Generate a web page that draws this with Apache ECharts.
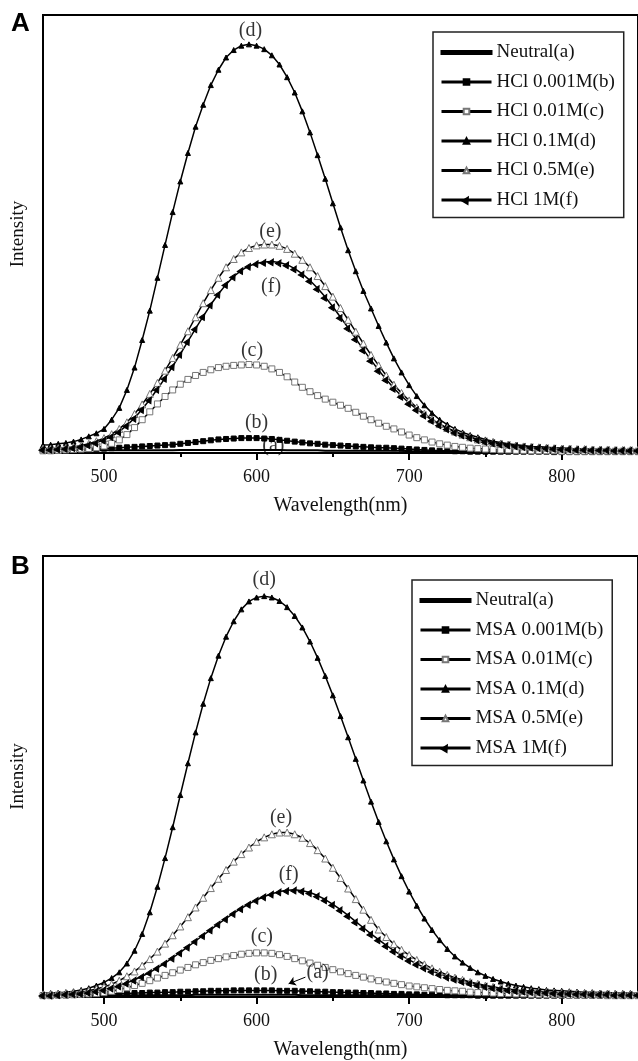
<!DOCTYPE html>
<html>
<head>
<meta charset="utf-8">
<script src="https://cdn.jsdelivr.net/npm/echarts@6/dist/echarts.min.js"></script>
<style>
  html, body { margin: 0; padding: 0; background: #fff; }
  #chart { width: 638px; height: 1061px; }
</style>
</head>
<body>
<div id="chart"></div>
<script>
// wavelength grid (nm)
const wl = [460,465,470,475,480,485,490,495,500,505,
  510,515,520,525,530,535,540,545,550,555,
  560,565,570,575,580,585,590,595,600,605,
  610,615,620,625,630,635,640,645,650,655,
  660,665,670,675,680,685,690,695,700,705,
  710,715,720,725,730,735,740,745,750,755,
  760,765,770,775,780,785,790,795,800,805,
  810,815,820,825,830,835,840,845,850];

const xTicks = [500, 600, 700, 800];
const xMinorTicks = [550, 650, 750];

const namesA = ['Neutral(a)', 'HCl 0.001M(b)', 'HCl 0.01M(c)', 'HCl 0.1M(d)', 'HCl 0.5M(e)', 'HCl 1M(f)'];
const namesB = ['Neutral(a)', 'MSA 0.001M(b)', 'MSA 0.01M(c)', 'MSA 0.1M(d)', 'MSA 0.5M(e)', 'MSA 1M(f)'];

// panel A intensities (arbitrary units, 0-100)
const aA = [0.6,0.6,0.6,0.6,0.6,0.6,0.6,0.6,0.6,0.6,
  0.6,0.6,0.6,0.6,0.6,0.6,0.6,0.6,0.7,0.7,
  0.7,0.7,0.7,0.7,0.7,0.7,0.7,0.7,0.7,0.7,
  0.7,0.7,0.6,0.6,0.6,0.6,0.6,0.5,0.5,0.5,
  0.5,0.5,0.5,0.5,0.5,0.5,0.5,0.5,0.4,0.4,
  0.4,0.4,0.4,0.4,0.4,0.4,0.4,0.4,0.4,0.4,
  0.4,0.4,0.4,0.4,0.4,0.4,0.4,0.4,0.4,0.4,
  0.4,0.4,0.4,0.4,0.4,0.4,0.4,0.4,0.4];
const bA = [0.5,0.5,0.5,0.6,0.6,0.7,0.8,0.9,1.0,1.1,
  1.2,1.3,1.4,1.5,1.6,1.7,1.8,1.9,2.1,2.3,
  2.5,2.7,2.9,3.1,3.2,3.3,3.4,3.4,3.4,3.3,
  3.2,3.0,2.8,2.6,2.4,2.2,2.1,1.9,1.8,1.7,
  1.6,1.5,1.4,1.3,1.2,1.2,1.1,1.0,0.9,0.8,
  0.7,0.6,0.5,0.5,0.4,0.4,0.3,0.3,0.3,0.3,
  0.3,0.3,0.3,0.3,0.3,0.3,0.3,0.2,0.2,0.2,
  0.2,0.2,0.2,0.2,0.2,0.2,0.2,0.2,0.2];
const cA = [0.5,0.5,0.6,0.7,0.8,0.9,1.0,1.2,1.6,2.2,
  3.0,4.2,5.8,7.6,9.4,11.2,12.9,14.4,15.7,16.8,
  17.7,18.4,19.0,19.5,19.8,20.0,20.1,20.2,20.1,19.8,
  19.2,18.4,17.4,16.2,15.0,14.0,13.1,12.3,11.6,10.9,
  10.2,9.3,8.4,7.6,6.8,6.1,5.5,4.8,4.1,3.5,
  3.0,2.5,2.1,1.8,1.5,1.3,1.1,1.0,0.9,0.8,
  0.7,0.7,0.6,0.6,0.5,0.5,0.5,0.5,0.4,0.4,
  0.4,0.4,0.4,0.4,0.4,0.4,0.4,0.4,0.4];
const dA = [1.8,1.9,2.1,2.3,2.6,3.1,3.8,4.5,5.5,7.6,
  10.3,14.4,19.5,25.8,32.5,40.0,47.5,55.0,62.0,68.5,
  74.5,79.5,84.0,87.5,90.3,92.0,93.0,93.3,93.0,92.2,
  90.8,88.7,85.8,82.3,78.0,73.2,68.0,62.6,57.0,51.5,
  46.3,41.5,37.0,33.0,29.0,25.2,21.6,18.4,15.5,13.0,
  10.9,9.1,7.6,6.5,5.5,4.7,4.1,3.6,3.1,2.7,
  2.4,2.1,1.9,1.7,1.5,1.4,1.3,1.2,1.1,1.0,
  0.9,0.9,0.8,0.8,0.7,0.7,0.7,0.6,0.6];
const eA = [1.0,1.0,1.1,1.2,1.4,1.7,2.1,2.7,3.4,4.3,
  5.5,7.0,8.9,11.1,13.5,16.0,18.8,21.7,24.7,27.8,
  31.0,34.2,37.2,40.0,42.4,44.3,45.8,46.8,47.4,47.6,
  47.6,47.3,46.6,45.5,44.1,42.4,40.4,38.1,35.7,33.1,
  30.4,27.7,25.0,22.4,20.0,17.7,15.6,13.7,12.0,10.4,
  9.0,7.7,6.6,5.7,4.9,4.2,3.6,3.1,2.7,2.4,
  2.1,1.9,1.7,1.5,1.4,1.3,1.2,1.1,1.0,1.0,
  0.9,0.9,0.8,0.8,0.8,0.7,0.7,0.7,0.7];
const fA = [0.9,0.9,1.0,1.1,1.3,1.5,1.9,2.4,3.0,3.8,
  4.9,6.3,8.0,10.0,12.2,14.6,17.1,19.8,22.6,25.5,
  28.4,31.2,33.9,36.3,38.5,40.3,41.7,42.7,43.3,43.6,
  43.7,43.5,43.0,42.1,40.9,39.4,37.6,35.6,33.4,31.0,
  28.6,26.1,23.6,21.2,18.9,16.8,14.8,13.0,11.4,10.0,
  8.7,7.5,6.5,5.6,4.8,4.2,3.6,3.1,2.7,2.4,
  2.1,1.9,1.7,1.5,1.4,1.3,1.2,1.1,1.0,1.0,
  0.9,0.9,0.8,0.8,0.8,0.7,0.7,0.7,0.7];

// panel B intensities
const aB = [0.4,0.4,0.4,0.4,0.4,0.4,0.4,0.4,0.4,0.4,
  0.4,0.4,0.4,0.4,0.4,0.4,0.4,0.4,0.4,0.4,
  0.5,0.5,0.5,0.5,0.5,0.5,0.5,0.5,0.5,0.5,
  0.5,0.5,0.5,0.5,0.4,0.4,0.4,0.4,0.4,0.4,
  0.4,0.4,0.4,0.4,0.4,0.4,0.4,0.4,0.4,0.4,
  0.3,0.3,0.3,0.3,0.3,0.3,0.3,0.3,0.3,0.3,
  0.3,0.3,0.3,0.3,0.3,0.3,0.3,0.3,0.3,0.3,
  0.3,0.3,0.3,0.3,0.3,0.3,0.3,0.3,0.3];
const bB = [0.4,0.4,0.4,0.5,0.5,0.5,0.6,0.6,0.7,0.7,
  0.8,0.8,0.9,0.9,1.0,1.0,1.1,1.1,1.2,1.2,
  1.3,1.3,1.4,1.4,1.4,1.5,1.5,1.5,1.5,1.5,
  1.5,1.4,1.4,1.4,1.3,1.3,1.2,1.2,1.1,1.1,
  1.0,1.0,0.9,0.9,0.8,0.8,0.7,0.7,0.6,0.6,
  0.5,0.5,0.5,0.4,0.4,0.4,0.4,0.3,0.3,0.3,
  0.3,0.3,0.3,0.3,0.3,0.3,0.3,0.3,0.3,0.3,
  0.3,0.3,0.3,0.3,0.3,0.3,0.3,0.3,0.3];
const cB = [0.3,0.3,0.4,0.4,0.5,0.6,0.7,0.8,1.0,1.3,
  1.7,2.1,2.6,3.1,3.7,4.3,4.9,5.5,6.1,6.7,
  7.3,7.8,8.3,8.7,9.1,9.4,9.7,9.9,10.0,10.0,
  9.9,9.6,9.2,8.7,8.2,7.7,7.2,6.7,6.2,5.7,
  5.3,4.9,4.5,4.1,3.7,3.4,3.1,2.8,2.5,2.3,
  2.1,1.9,1.7,1.5,1.4,1.3,1.1,1.0,1.0,0.9,
  0.8,0.8,0.7,0.7,0.6,0.6,0.5,0.5,0.5,0.4,
  0.4,0.4,0.4,0.4,0.3,0.3,0.3,0.3,0.3];
const dB = [0.9,0.9,1.0,1.1,1.3,1.6,2.0,2.6,3.3,4.3,
  5.6,7.6,10.5,14.3,19.2,25.0,31.5,38.5,45.8,53.0,
  60.0,66.5,72.3,77.4,81.7,85.2,87.9,89.7,90.6,90.9,
  90.6,89.8,88.4,86.4,83.8,80.6,76.9,72.8,68.4,63.7,
  58.9,54.0,49.1,44.3,39.7,35.3,31.2,27.4,23.9,20.7,
  17.8,15.2,12.9,10.9,9.2,7.8,6.6,5.6,4.8,4.1,
  3.5,3.0,2.6,2.3,2.0,1.8,1.6,1.5,1.4,1.3,
  1.2,1.1,1.1,1.0,1.0,0.9,0.9,0.9,0.8];
const eB = [0.6,0.6,0.7,0.8,0.9,1.1,1.4,1.8,2.3,2.9,
  3.7,4.7,5.8,7.1,8.6,10.3,12.1,14.0,16.0,18.1,
  20.3,22.5,24.7,26.8,28.8,30.7,32.4,33.9,35.2,36.2,
  36.9,37.3,37.3,36.9,36.1,34.9,33.3,31.4,29.3,27.0,
  24.6,22.2,19.8,17.5,15.3,13.6,12.0,10.7,9.5,8.4,
  7.4,6.5,5.7,5.0,4.4,3.9,3.4,3.0,2.6,2.3,
  2.0,1.8,1.6,1.4,1.3,1.2,1.1,1.0,0.9,0.9,
  0.8,0.8,0.7,0.7,0.7,0.6,0.6,0.6,0.6];
const fB = [0.5,0.5,0.6,0.7,0.8,0.9,1.1,1.4,1.7,2.1,
  2.6,3.2,3.9,4.7,5.6,6.6,7.7,8.9,10.1,11.4,
  12.7,14.0,15.3,16.6,17.8,19.0,20.1,21.1,22.0,22.8,
  23.4,23.9,24.2,24.3,24.1,23.7,23.0,22.1,21.0,19.8,
  18.5,17.1,15.7,14.3,13.0,11.7,10.5,9.4,8.4,7.5,
  6.7,5.9,5.2,4.6,4.1,3.6,3.2,2.8,2.5,2.2,
  1.9,1.7,1.5,1.4,1.3,1.2,1.1,1.0,0.9,0.9,
  0.8,0.8,0.7,0.7,0.7,0.6,0.6,0.6,0.6];

// curve annotations [wavelength, intensity, text]
const labelsA = [[596, 96.3, '(d)'], [609, 50.5, '(e)'], [609.5, 37.9, '(f)'],
  [597, 23.3, '(c)'], [600, 6.8, '(b)'], [611, 1.7, '(a)']];
const labelsB = [[605, 94.6, '(d)'], [616, 40.6, '(e)'], [621, 27.7, '(f)'],
  [603.5, 13.6, '(c)'], [606, 5.0, '(b)'], [640, 5.4, '(a)']];

const serif = "'Liberation Serif', 'Times New Roman', serif";
const sans = "'Liberation Sans', Arial, sans-serif";

// marker style per curve letter
const marks = {
  a: { symbol: 'none' },
  b: { symbol: 'rect', symbolSize: 5, fill: '#000', border: '#000' },
  c: { symbol: 'rect', symbolSize: 6, fill: '#fff', border: '#777' },
  d: { symbol: 'triangle', symbolSize: 5, fill: '#000', border: '#000' },
  e: { symbol: 'triangle', symbolSize: 7, fill: '#fff', border: '#777' },
  f: { symbol: 'triangle', symbolSize: 6, fill: '#000', border: '#000', rotate: -30 }
};

function curve(name, vals, key, xi, yi) {
  const m = marks[key];
  return {
    type: 'line',
    name: name,
    xAxisIndex: xi,
    yAxisIndex: yi,
    data: wl.map((w, i) => [w, vals[i]]),
    symbol: m.symbol,
    symbolSize: m.symbolSize || 0,
    symbolRotate: m.rotate || 0,
    showSymbol: m.symbol !== 'none',
    lineStyle: { color: '#000', width: key === 'a' ? 2 : 1.5 },
    itemStyle: { color: m.fill || '#000', borderColor: m.border || '#000', borderWidth: 1 },
    emphasis: { disabled: true },
    z: 3
  };
}

function textSeries(list, xi, yi) {
  return {
    type: 'scatter',
    xAxisIndex: xi,
    yAxisIndex: yi,
    data: list.map(l => ({ value: [l[0], l[1]], name: l[2] })),
    symbolSize: 1,
    itemStyle: { color: 'rgba(0,0,0,0)' },
    label: {
      show: true, position: 'inside', formatter: p => p.name,
      color: '#000', textBorderWidth: 0, fontFamily: serif, fontSize: 20
    },
    silent: true,
    z: 5
  };
}

function mainX(gi) {
  return {
    type: 'value', gridIndex: gi, min: 460, max: 850,
    axisLine: { show: true, lineStyle: { color: '#000', width: 2 } },
    axisTick: { show: true, customValues: xTicks, length: 7, lineStyle: { color: '#000', width: 2 } },
    axisLabel: { customValues: xTicks, color: '#111', fontFamily: serif, fontSize: 18, margin: 15 },
    splitLine: { show: false },
    name: 'Wavelength(nm)', nameLocation: 'middle', nameGap: 43,
    nameTextStyle: { color: '#111', fontFamily: serif, fontSize: 20 }
  };
}

function minorX(gi) {
  return {
    type: 'value', gridIndex: gi, min: 460, max: 850, position: 'bottom',
    axisLine: { show: false },
    axisTick: { show: true, customValues: xMinorTicks, length: 4, lineStyle: { color: '#000', width: 2 } },
    axisLabel: { show: false },
    splitLine: { show: false }
  };
}

function yAx(gi) {
  return {
    type: 'value', gridIndex: gi, min: 0, max: 100,
    axisLine: { show: true, lineStyle: { color: '#000', width: 2 } },
    axisTick: { show: false },
    axisLabel: { show: false },
    splitLine: { show: false },
    name: 'Intensity', nameLocation: 'middle', nameGap: 15,
    nameTextStyle: { color: '#111', fontFamily: serif, fontSize: 19 }
  };
}

function legendBox(names, left, top) {
  return {
    // the neutral entry is a plain thick line
    data: names.map((n, i) => i === 0 ? { name: n, icon: 'path://M0,0h50v3h-50z' } : n),
    orient: 'vertical', left: left, top: top,
    itemWidth: 50, itemHeight: 7, itemGap: 10.5,
    padding: [11, 9, 8, 7],
    borderColor: '#222', borderWidth: 1.5, backgroundColor: '#fff',
    lineStyle: { width: 3 },
    textStyle: { color: '#111', fontFamily: serif, fontSize: 19 },
    selectedMode: false
  };
}

const keys = ['a', 'b', 'c', 'd', 'e', 'f'];
const valsA = [aA, bA, cA, dA, eA, fA];
const valsB = [aB, bB, cB, dB, eB, fB];

const series = [];
keys.forEach((k, i) => series.push(curve(namesA[i], valsA[i], k, 0, 0)));
keys.forEach((k, i) => series.push(curve(namesB[i], valsB[i], k, 2, 1)));
series.push(textSeries(labelsA, 0, 0));
series.push(textSeries(labelsB, 2, 1));

// arrow from the (a) label to the neutral curve in panel B
series[6].markLine = {
  silent: true,
  symbol: ['none', 'arrow'],
  symbolSize: 7,
  lineStyle: { color: '#000', width: 1, type: 'solid' },
  label: { show: false },
  data: [[{ coord: [632, 4.5] }, { coord: [621, 3.0] }]]
};

const chart = echarts.init(document.getElementById('chart'));
chart.setOption({
  animation: false,
  backgroundColor: '#fff',
  title: [
    { text: 'A', left: 11, top: 11, padding: 0,
      textStyle: { fontFamily: sans, fontWeight: 'bold', fontSize: 26, color: '#000' } },
    { text: 'B', left: 11, top: 554, padding: 0,
      textStyle: { fontFamily: sans, fontWeight: 'bold', fontSize: 26, color: '#000' } }
  ],
  grid: [
    { left: 43, right: -3, top: 15, height: 438, show: true, borderColor: '#000', borderWidth: 2 },
    { left: 43, right: -3, top: 556, height: 441, show: true, borderColor: '#000', borderWidth: 2 }
  ],
  xAxis: [mainX(0), minorX(0), mainX(1), minorX(1)],
  yAxis: [yAx(0), yAx(1)],
  legend: [legendBox(namesA, 433, 32), legendBox(namesB, 412, 580)],
  series: series
});
</script>
</body>
</html>
